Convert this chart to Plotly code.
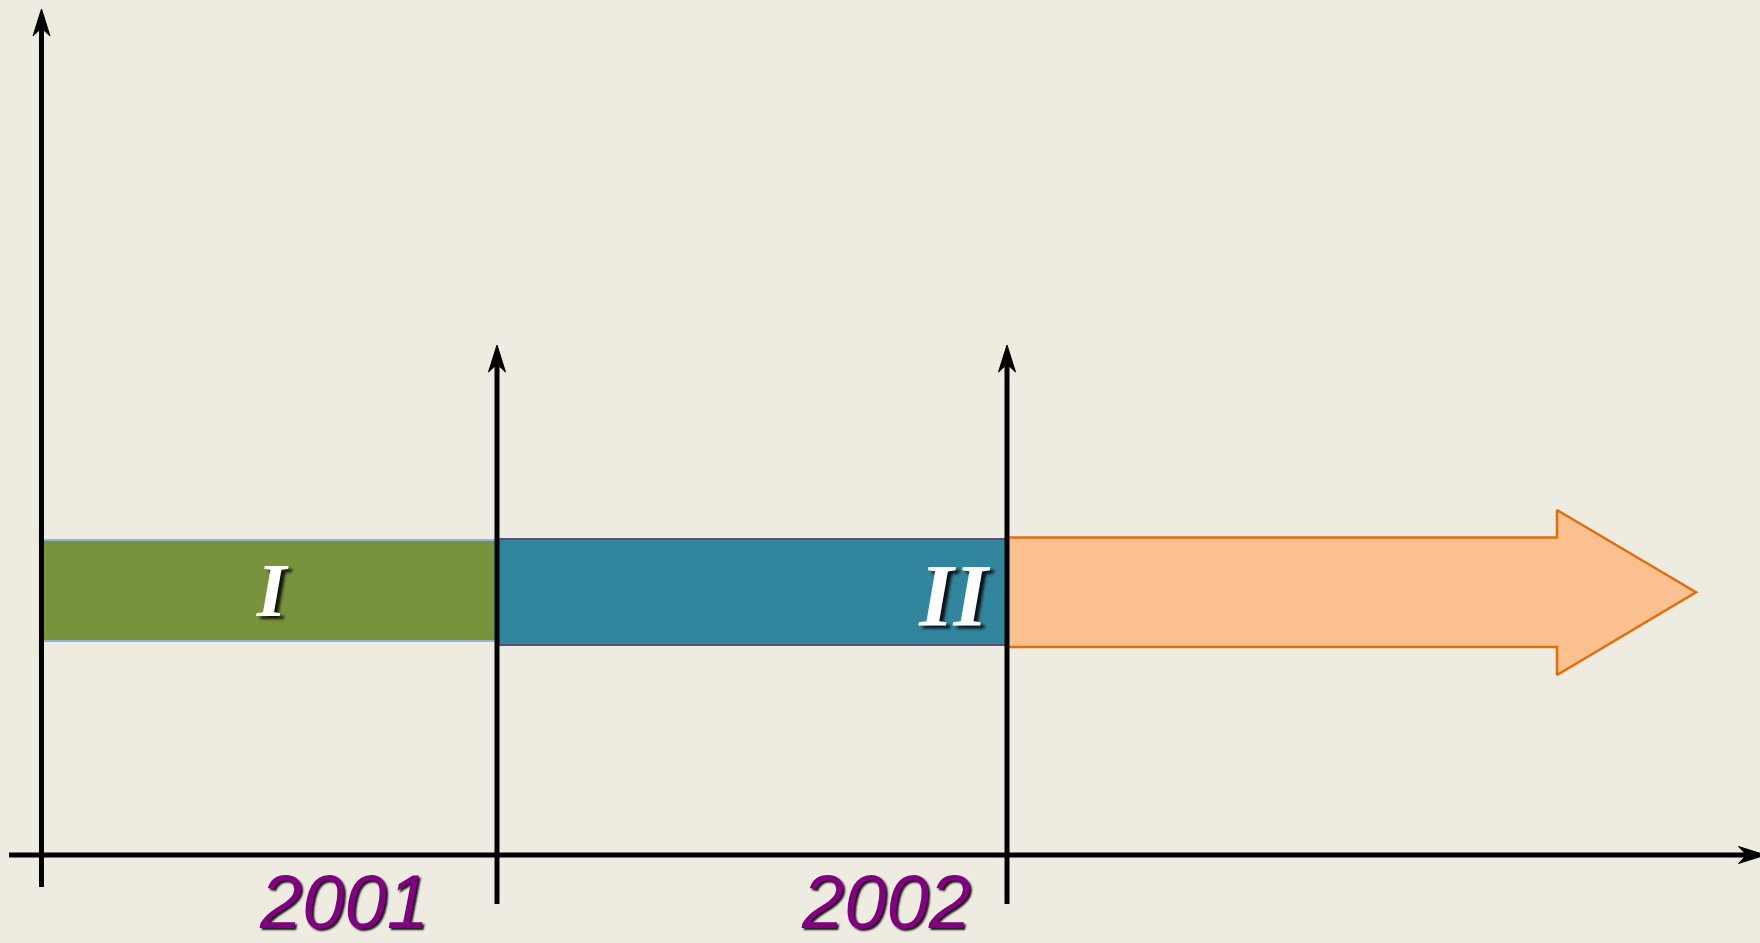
import plotly.graph_objects as go

# ---- data (timeline units; 0 = origin of the time axis) ----
period_labels = ["I", "II"]
period_start = [0, 455.5]
period_end = [455.5, 965.5]
period_low = [214, 210]
period_high = [315, 316]
period_label_x = [230, 912]
period_label_y = [258, 252]
period_colors = ["#77933C", "#31859C"]
period_edge = ["#95B3D7", "#5F497A"]

year_labels = ["2001", "2002"]
year_label_x = [303, 845]
year_label_y = [-54, -54]

future_start = 965.5
future_shaft_end = 1515.5
future_tip = 1654.5
future_shaft = [208, 317.5]
future_head = [180, 345]

axis_x_span = [-32.5, 1724]
axis_y_span = [-32, 846]
boundary_x = [455.5, 965.5]
boundary_span = [-49, 510]

W, H = 1760, 943
X0, Y0 = 41.5, 855  # pixel position of the origin
xr = [-X0, W - X0]
yr = [Y0 - H, Y0]

fig = go.Figure()

def line(xs, ys, color="black", width=5):
    fig.add_trace(go.Scatter(x=xs, y=ys, mode="lines",
                             line=dict(color=color, width=width),
                             hoverinfo="skip", showlegend=False))

def poly(xs, ys, fill, edge, width):
    fig.add_trace(go.Scatter(x=xs + [xs[0]], y=ys + [ys[0]], mode="lines",
                             fill="toself", fillcolor=fill,
                             line=dict(color=edge, width=width),
                             hoverinfo="skip", showlegend=False))

def arrow_up(x, ytip, half=8.5, length=27, notch=19):
    poly([x, x - half, x, x + half],
         [ytip, ytip - length, ytip - notch, ytip - length],
         "black", "black", 1)

def arrow_right(xtip, y, half=8.5, length=27, notch=19):
    poly([xtip, xtip - length, xtip - notch, xtip - length],
         [y, y + half, y, y - half], "black", "black", 1)

# period bars
for i in range(len(period_labels)):
    poly([period_start[i], period_end[i], period_end[i], period_start[i]],
         [period_low[i], period_low[i], period_high[i], period_high[i]],
         period_colors[i], period_edge[i], 2)

# future arrow
fx = [future_start, future_shaft_end, future_shaft_end, future_tip,
      future_shaft_end, future_shaft_end, future_start]
fy = [future_shaft[1], future_shaft[1], future_head[1],
      (future_shaft[0] + future_shaft[1]) / 2,
      future_head[0], future_shaft[0], future_shaft[0]]
poly(fx, fy, "#FAC090", "#E46C0A", 2.5)

# axes
line([0, 0], [axis_y_span[0], axis_y_span[1] - 16])
arrow_up(0, axis_y_span[1])
line([axis_x_span[0], axis_x_span[1] - 16], [0, 0])
arrow_right(axis_x_span[1], 0)
for bx in boundary_x:
    line([bx, bx], [boundary_span[0], boundary_span[1] - 16])
    arrow_up(bx, boundary_span[1])

# period labels
sizes = [76, 88]
for i, lab in enumerate(period_labels):
    fig.add_trace(go.Scatter(
        x=[period_label_x[i]], y=[period_label_y[i]], mode="text", text=[lab],
        textposition="middle center",
        textfont=dict(family="Liberation Serif", size=sizes[i], color="white",
                      weight="bold", style="italic",
                      shadow="4px 3px 3px rgba(0,0,0,0.85)"),
        hoverinfo="skip", showlegend=False))

# year labels
fig.add_trace(go.Scatter(
    x=year_label_x, y=year_label_y, mode="text", text=year_labels,
    textposition="middle center",
    textfont=dict(family="Liberation Sans", size=76, color="#800080",
                  style="italic", shadow="2px 2px 2px rgba(0,0,0,0.9)"),
    cliponaxis=False, hoverinfo="skip", showlegend=False))

fig.update_layout(
    width=W, height=H, margin=dict(l=0, r=0, t=0, b=0),
    paper_bgcolor="#EEECE1", plot_bgcolor="#EEECE1",
    xaxis=dict(range=xr, visible=False, fixedrange=True),
    yaxis=dict(range=yr, visible=False, fixedrange=True),
    showlegend=False,
)

fig.write_html("out.html", config={"displayModeBar": False},
               post_script="document.body.style.margin='0';document.body.style.overflow='hidden';document.body.style.background='#EEECE1';")
